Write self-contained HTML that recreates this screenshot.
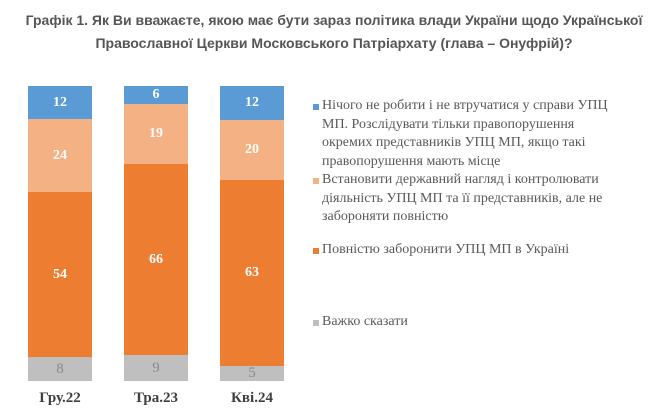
<!DOCTYPE html>
<html><head><meta charset="utf-8"><style>
body{margin:0;width:648px;height:420px;background:#fff;position:relative;overflow:hidden}
.t{position:absolute;left:0;width:668px;text-align:center;font:bold 14px "Liberation Sans",sans-serif;color:#555;white-space:nowrap}
.s{position:absolute;width:64px;display:flex;align-items:center;justify-content:center;font:bold 14px "Liberation Serif",serif;color:#fff}
.g{color:#8a8a8a;font-weight:normal;font-size:15px}
.x{position:absolute;top:390px;width:64px;text-align:center;font:bold 15px "Liberation Serif",serif;color:#404040}
.lg{position:absolute;left:322px;font:14px/18.5px "Liberation Serif",serif;color:#595959;width:295px}
.sq{position:absolute;left:313px;width:6px;height:6px}
</style></head><body>
<div class="t" style="top:12px">Графік 1. Як Ви вважаєте, якою має бути зараз політика влади України щодо Української</div>
<div class="t" style="top:35px">Православної Церкви Московського Патріархату (глава – Онуфрій)?</div>

<div class="s" style="left:28px;top:86px;height:33px;background:#5b9bd5">12</div>
<div class="s" style="left:28px;top:119px;height:73px;background:#f4b183">24</div>
<div class="s" style="left:28px;top:192px;height:165px;background:#ed7d31">54</div>
<div class="s g" style="left:28px;top:357px;height:24px;background:#bfbfbf">8</div>

<div class="s" style="left:124px;top:86px;height:18px;background:#5b9bd5">6</div>
<div class="s" style="left:124px;top:104px;height:60px;background:#f4b183">19</div>
<div class="s" style="left:124px;top:164px;height:191px;background:#ed7d31">66</div>
<div class="s g" style="left:124px;top:355px;height:26px;background:#bfbfbf">9</div>

<div class="s" style="left:220px;top:86px;height:34px;background:#5b9bd5">12</div>
<div class="s" style="left:220px;top:120px;height:60px;background:#f4b183">20</div>
<div class="s" style="left:220px;top:180px;height:186px;background:#ed7d31">63</div>
<div class="s g" style="left:220px;top:366px;height:15px;background:#bfbfbf">5</div>

<div class="x" style="left:28px">Гру.22</div>
<div class="x" style="left:124px">Тра.23</div>
<div class="x" style="left:220px">Кві.24</div>

<div class="sq" style="top:104px;background:#5b9bd5"></div>
<div class="lg" style="top:97px">Нічого не робити і не втручатися у справи УПЦ МП. Розслідувати тільки правопорушення окремих представників УПЦ МП, якщо такі правопорушення мають місце</div>
<div class="sq" style="top:178px;background:#f4b183"></div>
<div class="lg" style="top:171px">Встановити державний нагляд і контролювати діяльність УПЦ МП та її представників, але не забороняти повністю</div>
<div class="sq" style="top:248px;background:#ed7d31"></div>
<div class="lg" style="top:241px">Повністю заборонити УПЦ МП в Україні</div>
<div class="sq" style="top:320px;background:#bfbfbf"></div>
<div class="lg" style="top:313px">Важко сказати</div>
</body></html>
